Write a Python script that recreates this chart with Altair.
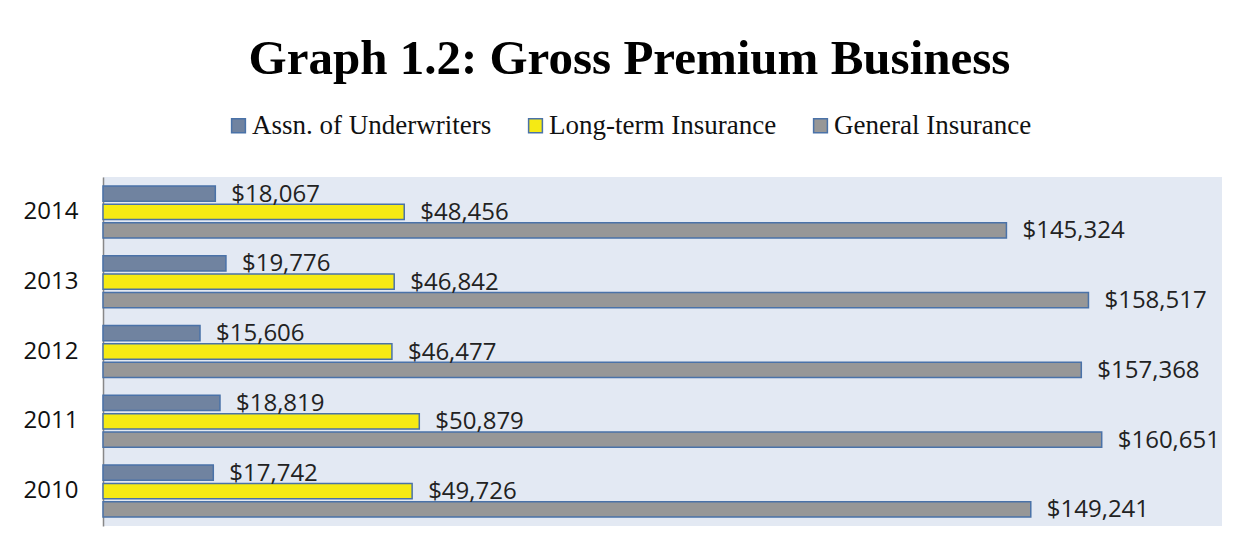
import altair as alt
import pandas as pd

years = ["2014", "2013", "2012", "2011", "2010"]
series = ["Assn. of Underwriters", "Long-term Insurance", "General Insurance"]
assn = [18067, 19776, 15606, 18819, 17742]
longterm = [48456, 46842, 46477, 50879, 49726]
general = [145324, 158517, 157368, 160651, 149241]
colors = ["#7083A0", "#F5EA14", "#979797"]

rows = []
for i, y in enumerate(years):
    for s, vals in zip(series, [assn, longterm, general]):
        rows.append({"Year": y, "Series": s, "Value": vals[i]})
df = pd.DataFrame(rows)

y_enc = alt.Y("Year:N", sort=years, title=None,
              scale=alt.Scale(paddingInner=0.255, paddingOuter=0.1275),
              axis=alt.Axis(labelFont="Open Sans", labelFontSize=24, labelColor="#111",
                            labelPadding=25, ticks=False, domainColor="#888",
                            domainWidth=1.5, grid=False))
yoff = alt.YOffset("Series:N", sort=series,
                   scale=alt.Scale(paddingInner=0.17, paddingOuter=0))
x_enc = alt.X("Value:Q", scale=alt.Scale(domain=[0, 180000], nice=False),
              axis=None)

bars = alt.Chart(df).mark_bar(stroke="#4A72A8", strokeWidth=1.5).encode(
    x=x_enc, y=y_enc, yOffset=yoff,
    color=alt.Color("Series:N", sort=series,
                    scale=alt.Scale(domain=series, range=colors),
                    legend=alt.Legend(title=None, orient="none", direction="horizontal",
                                      legendX=122, legendY=-65,
                                      symbolType="square", symbolSize=190,
                                      symbolStrokeColor="#4A72A8", symbolStrokeWidth=1.5,
                                      labelFont="Liberation Serif", labelFontSize=27,
                                      labelColor="#111", labelOffset=0,
                                      columnPadding=30, labelLimit=400)),
)

labels = alt.Chart(df).mark_text(align="left", baseline="middle", dx=16, dy=1,
                                 font="Open Sans", fontSize=24, color="#222").encode(
    x=x_enc, y=y_enc, yOffset=yoff,
    text=alt.Text("Value:Q", format="$,.0f"),
)

chart = alt.layer(bars, labels).properties(
    width=1119, height=349,
    autosize=alt.AutoSizeParams(type="none"),
    padding={"left": 95, "top": 169, "right": 15, "bottom": 20},
    title=alt.TitleParams("Graph 1.2: Gross Premium Business", font="Liberation Serif",
                          fontSize=49, fontWeight="bold", color="#000",
                          anchor="middle", dx=-33, offset=28),
).configure(background="white").configure_view(fill="#E3E9F3", stroke=None)

chart.save("out.html", embed_options={"renderer": "svg", "actions": False})
